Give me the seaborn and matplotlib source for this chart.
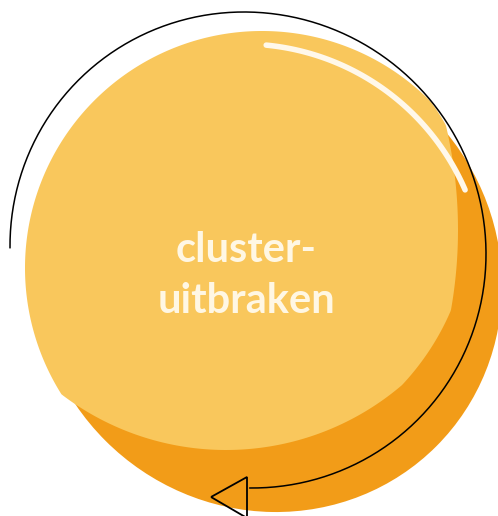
import numpy as np
import matplotlib
matplotlib.use("Agg")
import matplotlib.pyplot as plt
from matplotlib.patches import Ellipse, Polygon
import seaborn as sns

# label text inside the bubble
label_lines = ["cluster-", "uitbraken"]

# colours
light_color = "#F9C75C"
dark_color = "#F29C18"
text_color = "#FFF7E4"
shine_color = "#FFF8EA"

sns.set_theme(style="white")
plt.rcParams['font.family'] = ['Lato', 'DejaVu Sans']


def ray_hit(o, d, c, a, b, ang):
    # distance along each ray d from o to the edge of a rotated ellipse
    u = np.array([np.cos(ang), np.sin(ang)])
    v = np.array([-np.sin(ang), np.cos(ang)])
    w = np.asarray(o) - np.asarray(c)
    du, dv = d @ u / a, d @ v / b
    wu, wv = w @ u / a, w @ v / b
    A = du ** 2 + dv ** 2
    B = 2 * (du * wu + dv * wv)
    C = wu ** 2 + wv ** 2 - 1
    return (-B + np.sqrt(B ** 2 - 4 * A * C)) / (2 * A)


fig = plt.figure(figsize=(4.98, 5.16), dpi=100)
ax = fig.add_axes([0, 0, 1, 1])
ax.set_xlim(0, 498)
ax.set_ylim(516, 0)
ax.set_aspect('equal')
ax.axis('off')

# back (dark) disc
ax.add_patch(Ellipse((268, 278), 476, 460, angle=45, facecolor=dark_color,
                     edgecolor='none', zorder=1))

# front (light) disc: overlap of a few round shapes
o = np.array([244.0, 250.0])
th = np.linspace(0, 2 * np.pi, 720)
d = np.stack([np.cos(th), np.sin(th)], axis=1)
r = np.minimum.reduce([
    ray_hit(o, d, (262, 268), 237, 237, 0.0),
    ray_hit(o, d, (244, 246), 236, 210, np.radians(-40)),
    ray_hit(o, d, (226, 179), 271, 271, 0.0),
    ray_hit(o, d, (0, 230), 458, 458, 0.0),
])
ax.fill(o[0] + r * np.cos(th), o[1] + r * np.sin(th), color=light_color,
        lw=0, zorder=2)

# shine on the upper right
t = np.radians(np.linspace(-84.5, -23.4, 100))
ax.plot(243 + 242 * np.cos(t), 286 + 242 * np.sin(t), color=shine_color,
        lw=4.0, solid_capstyle='round', zorder=3)

# label
for line, base in zip(label_lines, [262, 313]):
    ax.text(246, base, line, ha='center', va='baseline', fontsize=30,
            fontweight='bold', color=text_color, zorder=4)

# thin arrow running around the disc
ta = np.radians(np.linspace(180.5, 449.6, 400))
da = np.stack([np.cos(ta), np.sin(ta)], axis=1)
ra = ray_hit((248, 250), da, (248, 250), 240, 236, np.radians(45))
sns.lineplot(x=248 + ra * np.cos(ta), y=250 + ra * np.sin(ta), sort=False,
             color='black', lw=1.1, ax=ax, zorder=5)
ax.add_patch(Polygon([(211, 497), (247, 477), (247, 518)], closed=True,
                     fill=False, edgecolor='black', lw=1.3, zorder=5))

fig.savefig("out.png", dpi=100)
